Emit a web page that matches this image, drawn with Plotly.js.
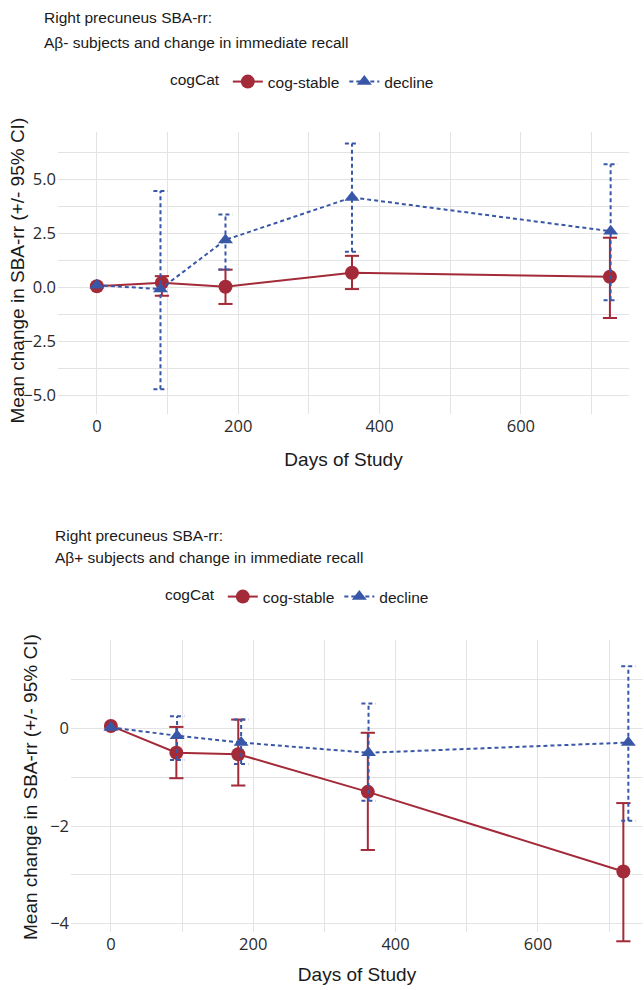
<!DOCTYPE html>
<html>
<head>
<meta charset="utf-8">
<script src="https://cdn.plot.ly/plotly-3.0.1.min.js"></script>
<style>
html,body{margin:0;padding:0;background:#fff;}
#top,#bottom{width:644px;height:495px;}
</style>
</head>
<body>
<div id="top"></div>
<div id="bottom"></div>
<script>
// ---------- Data: Aβ- (top) ----------
const topTitleLines = ["Right precuneus SBA-rr:", "Aβ- subjects and change in immediate recall"];
const topStableDays = [0, 92, 182, 361, 726];
const topStableMean = [0.05, 0.21, 0.03, 0.68, 0.49];
const topStableLo   = [0.05, -0.39, -0.77, -0.08, -1.42];
const topStableHi   = [0.05, 0.52, 0.82, 1.46, 2.30];
const topDeclineDays = [0, 90, 182, 361, 727];
const topDeclineMean = [0.10, -0.08, 2.20, 4.17, 2.60];
const topDeclineLo   = [0.10, -4.72, 0.83, 1.65, -0.60];
const topDeclineHi   = [0.10, 4.46, 3.38, 6.67, 5.71];

// ---------- Data: Aβ+ (bottom) ----------
const botTitleLines = ["Right precuneus SBA-rr:", "Aβ+ subjects and change in immediate recall"];
const botStableDays = [0, 92, 179, 361, 720];
const botStableMean = [0.05, -0.50, -0.53, -1.30, -2.93];
const botStableLo   = [0.05, -1.02, -1.17, -2.49, -4.36];
const botStableHi   = [0.05, 0.03, 0.18, -0.09, -1.53];
const botDeclineDays = [0, 93, 183, 362, 727];
const botDeclineMean = [0.02, -0.15, -0.29, -0.50, -0.29];
const botDeclineLo   = [0.02, -0.65, -0.73, -1.48, -1.89];
const botDeclineHi   = [0.02, 0.25, 0.18, 0.51, 1.27];

const seriesNames = ["cog-stable", "decline"];
const legendTitle = "cogCat";
const xTitle = "Days of Study";
const yTitle = "Mean change in SBA-rr (+/- 95% CI)";
const xTickVals = [0, 200, 400, 600];

const RED = "#a32a38";
const BLUE = "#3857a6";
const DASH = "4px,3px";
const CAP_HALF = 10; // errorbar half-width in days (like ggplot width)

function errSegments(days, lo, hi) {
  const xs = [], ys = [];
  for (let i = 0; i < days.length; i++) {
    if (lo[i] === hi[i]) continue;
    xs.push(days[i], days[i], null);
    ys.push(lo[i], hi[i], null);
    xs.push(days[i] - CAP_HALF, days[i] + CAP_HALF, null);
    ys.push(lo[i], lo[i], null);
    xs.push(days[i] - CAP_HALF, days[i] + CAP_HALF, null);
    ys.push(hi[i], hi[i], null);
  }
  return {xs, ys};
}

function traces(sd, sm, slo, shi, dd, dm, dlo, dhi, xa, ya) {
  const sErr = errSegments(sd, slo, shi);
  const dErr = errSegments(dd, dlo, dhi);
  return [
    {x: sErr.xs, y: sErr.ys, xaxis: xa, yaxis: ya, mode: "lines", line: {color: RED, width: 2}, showlegend: false, hoverinfo: "skip"},
    {x: sd, y: sm, xaxis: xa, yaxis: ya, name: seriesNames[0], mode: "lines+markers",
     line: {color: RED, width: 2}, marker: {color: RED, size: 14, symbol: "circle"}},
    {x: dErr.xs, y: dErr.ys, xaxis: xa, yaxis: ya, mode: "lines", line: {color: BLUE, width: 2, dash: DASH}, showlegend: false, hoverinfo: "skip"},
    {x: dd, y: dm, xaxis: xa, yaxis: ya, name: seriesNames[1], mode: "lines+markers",
     line: {color: BLUE, width: 2, dash: DASH}, marker: {color: BLUE, size: 13, symbol: "triangle-up"}}
  ];
}

const GRID = "#e3e3e3";
const TXT = "#1a1a1a";
const TICKFONT = {family: "Open Sans, Liberation Sans, sans-serif", size: 16.5, color: "#2a2a2a"};
const LEGFONT = {family: "Liberation Sans, Arial, sans-serif", size: 15.5, color: TXT};
const AXFONT = {family: "Liberation Sans, Arial, sans-serif", size: 19, color: TXT};
const TITLEFONT = {family: "Liberation Sans, Arial, sans-serif", size: 15.5, color: TXT};

function layout(o) {
  const H = 495;
  const m = o.margin;
  const pw = 644 - m.l - m.r, ph = H - m.t - m.b;
  const px2x = p => (p - m.l) / pw;
  const px2y = p => (H - m.b - p) / ph;
  const ann = o.titleLines.map((t, i) => ({
    text: t, xref: "paper", yref: "paper", x: px2x(o.titleX), y: px2y(o.titleYs[i]),
    xanchor: "left", yanchor: "middle", align: "left", showarrow: false, font: TITLEFONT}));
  ann.push({text: yTitle, textangle: -90, xref: "paper", yref: "paper", x: px2x(o.yTitleX), y: px2y(o.yTitleY),
    xanchor: "center", yanchor: "middle", showarrow: false, font: AXFONT});
  return {
    width: 644, height: H,
    paper_bgcolor: "#fff", plot_bgcolor: "rgba(0,0,0,0)",
    margin: m,
    showlegend: true,
    font: LEGFONT,
    annotations: ann,
    legend: {orientation: "h", xref: "container", yref: "container", x: o.legX / 644, y: 1 - o.legY / H,
             xanchor: "left", yanchor: "middle",
             title: {text: legendTitle, side: "left", font: LEGFONT}, font: LEGFONT,
             itemwidth: 30, tracegroupgap: 0},
    xaxis: {range: o.xRange, tickvals: xTickVals, ticktext: xTickVals.map(String),
            showgrid: true, gridcolor: GRID, gridwidth: 1, zeroline: false, showline: false,
            minor: {dtick: 100, tick0: 0, showgrid: true, gridcolor: GRID, gridwidth: 1},
            tickfont: TICKFONT, ticklabelstandoff: 0,
            title: {text: xTitle, font: AXFONT, standoff: o.xStandoff}},
    yaxis: {range: o.yRange, dtick: o.yDtick, tick0: 0, tickformat: o.yFormat, domain: o.yDomain || [0, 1],
            showgrid: true, gridcolor: GRID, gridwidth: 1, zeroline: false, showline: false,
            minor: {dtick: o.yDtick / 2, tick0: 0, showgrid: true, gridcolor: GRID, gridwidth: 1},
            tickfont: TICKFONT, ticklabelstandoff: 1}
  };
}

// ---- top chart ----
Plotly.newPlot("top",
  traces(topStableDays, topStableMean, topStableLo, topStableHi, topDeclineDays, topDeclineMean, topDeclineLo, topDeclineHi, "x", "y"),
  layout({titleLines: topTitleLines, titleX: 42, titleYs: [18, 42], legX: 168, legY: 82,
          yTitleX: 16.5, yTitleY: 271,
          margin: {l: 58, r: 15, t: 132, b: 81}, xRange: [-55, 753], yRange: [-5.87, 7.2], yDtick: 2.5, yFormat: ".1f",
          xStandoff: 17}),
  {displayModeBar: false, staticPlot: true});

// ---- bottom chart: panel ends at 437px, overlay subplot lets the last CI reach below the panel ----
const botPanelTop = 145, botPanelBottom = 437, botAreaBottom = 452;
const botYRange = [-4.17, 1.81];
const botXRange = [-56, 747.6];
const botDomainLo = (botAreaBottom - botPanelBottom) / (botAreaBottom - botPanelTop);
const pxPerUnit = (botPanelBottom - botPanelTop) / (botYRange[1] - botYRange[0]);
const botOverlayRange = [botYRange[1] - (botAreaBottom - botPanelTop) / pxPerUnit, botYRange[1]];
const botLayout = layout({titleLines: botTitleLines, titleX: 53, titleYs: [40, 62], legX: 163, legY: 102,
          yTitleX: 30, yTitleY: 292,
          margin: {l: 71, r: 1, t: botPanelTop, b: 495 - botAreaBottom}, xRange: botXRange, yRange: botYRange,
          yDtick: 2, yFormat: "d", yDomain: [botDomainLo, 1], xStandoff: 14});
botLayout.xaxis2 = {range: botXRange, domain: [0, 1], anchor: "y2", visible: false, showgrid: false, zeroline: false};
botLayout.yaxis2 = {range: botOverlayRange, domain: [0, 1], anchor: "x2", visible: false, showgrid: false, zeroline: false};
// empty placeholder so the gridded main subplot (x, y) is created
const botAxesHolder = {x: [], y: [], xaxis: "x", yaxis: "y", mode: "markers", showlegend: false, hoverinfo: "skip"};
Plotly.newPlot("bottom",
  [botAxesHolder].concat(traces(botStableDays, botStableMean, botStableLo, botStableHi, botDeclineDays, botDeclineMean, botDeclineLo, botDeclineHi, "x2", "y2")),
  botLayout,
  {displayModeBar: false, staticPlot: true});
</script>
</body>
</html>
